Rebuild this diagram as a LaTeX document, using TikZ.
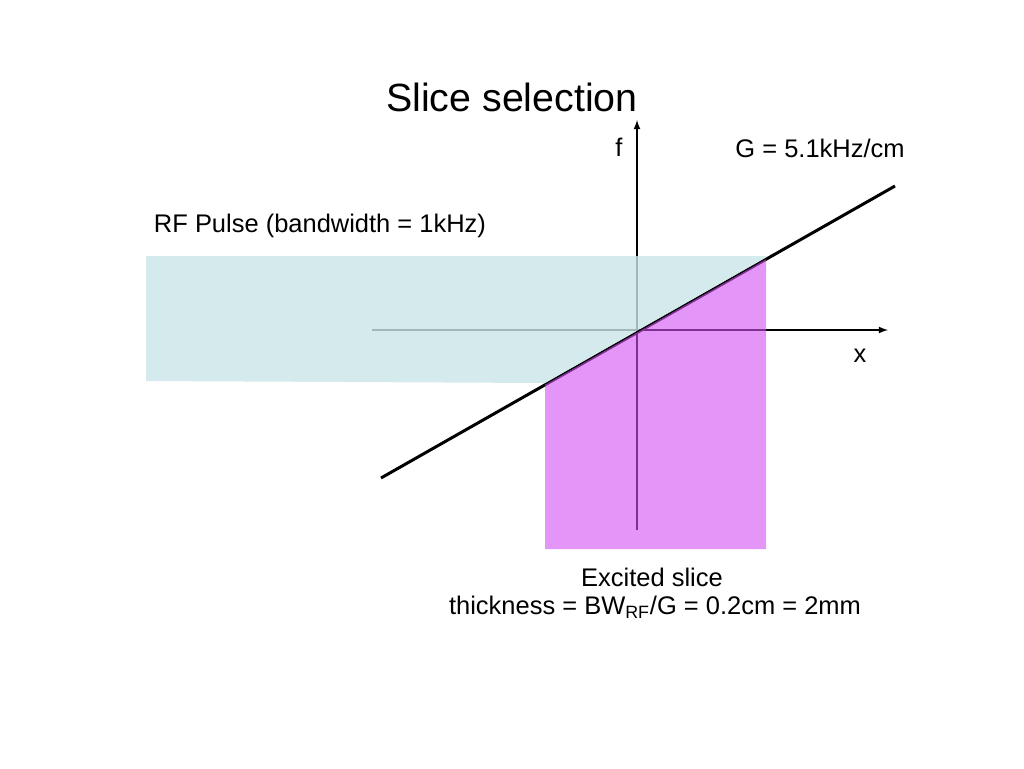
\documentclass[tikz,border=0pt]{standalone}
\usepackage{fontspec}
\setmainfont{Liberation Sans}
\usepackage{tikz}

\definecolor{pulseblue}{RGB}{202,229,232}
\definecolor{slicepink}{RGB}{210,80,243}

\tikzset{
	axis/.style = {line width = 0.8pt, black, -latex},
	gradline/.style = {line width = 1.7pt, black},
	lbl/.style = {font = \fontsize{14.5}{17}\selectfont, inner sep = 0pt}
}

\begin{document}
\begin{tikzpicture}[x = 0.02cm, y = -0.02cm]

		\useasboundingbox (0, 0) rectangle (1024, 768);

		\node[inner sep = 0pt, font = \fontsize{22.4}{26}\selectfont] (title) at (512, 97) {Slice selection};

		% axes
		\coordinate (xstart) at (372, 330);
		\coordinate (xend) at (888, 330);
		\coordinate (fstart) at (637, 530);
		\coordinate (fend) at (637, 120);
		\draw[axis] (xstart) -- (xend);
		\draw[axis] (fstart) -- (fend);

		\node[lbl] (flabel) at (619, 147) {f};
		\node[lbl] (xlabel) at (860, 356) {x};

		% gradient line
		\coordinate (gstart) at (381, 478);
		\coordinate (gend) at (895, 186);
		\draw[gradline] (gstart) -- (gend);
		\node[lbl] (glabel) at (820, 148) {G = 5.1kHz/cm};

		% RF pulse band
		\fill[pulseblue, opacity = 0.8] (146, 256) -- (766, 256) -- (766, 257.5) -- (545, 383) -- (146, 381) -- cycle;
		\node[lbl] (pulse) at (320, 226) {RF Pulse (bandwidth = 1kHz)};

		% excited slice
		\fill[slicepink, opacity = 0.6] (545, 384.8) -- (766, 259.3) -- (766, 549) -- (545, 549) -- cycle;
		\node[lbl] (slice) at (652, 577) {Excited slice};
		\node[lbl] (thick) at (655, 607) {thickness = BW\textsubscript{RF}/G = 0.2cm = 2mm};

	\end{tikzpicture}
\end{document}
